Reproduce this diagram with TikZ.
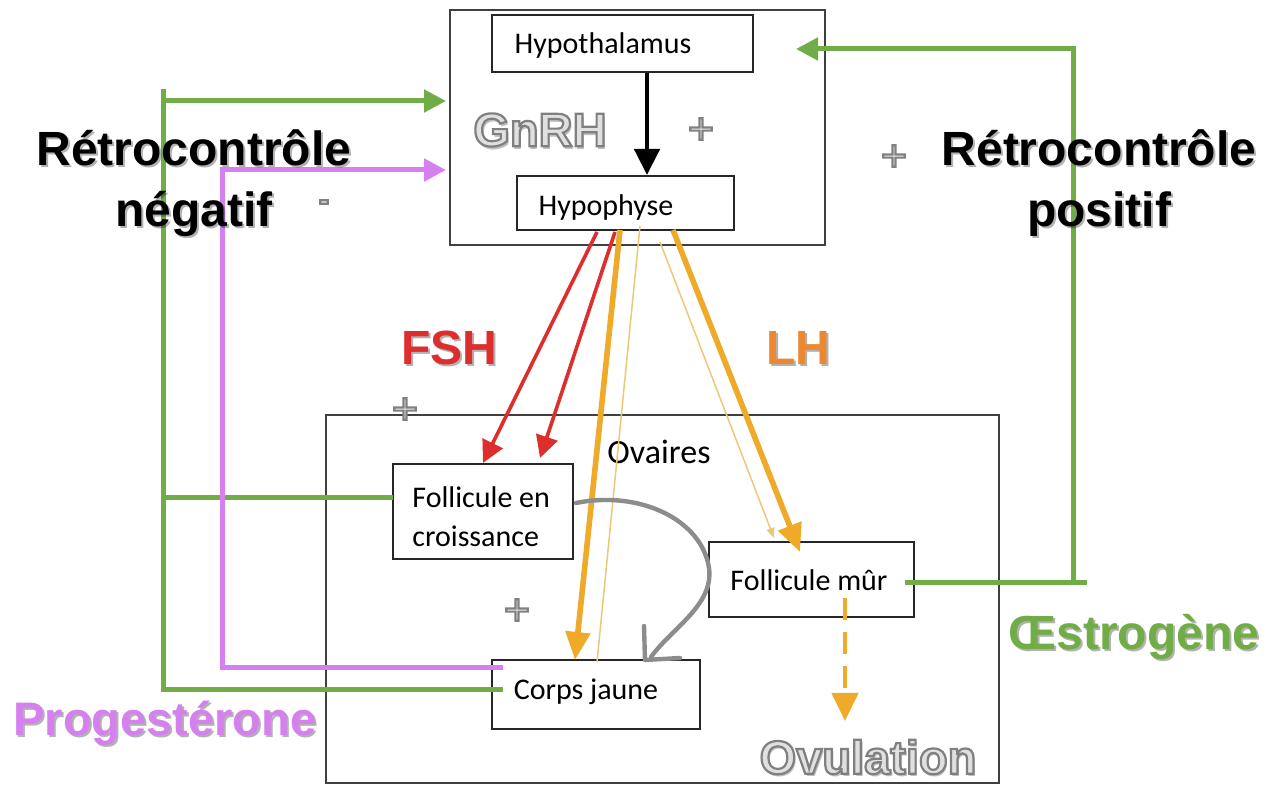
\documentclass[tikz,border=0pt]{standalone}
\usepackage{fontspec}
\setmainfont{Carlito}
\newfontfamily\arialf{Liberation Sans}
\usetikzlibrary{arrows.meta}
\definecolor{grn}{RGB}{112,173,71}
\definecolor{prp}{RGB}{214,128,240}
\definecolor{org}{RGB}{238,170,40}
\definecolor{orgl}{RGB}{238,200,120}
\definecolor{fshred}{RGB}{222,45,45}
\definecolor{lhorg}{RGB}{236,135,50}
\newcommand{\outlinetxt}[1]{\special{pdf:literal direct 0.5 G 1.1 w 2 Tr}#1\special{pdf:literal direct 0 Tr}}
\begin{document}
\begin{tikzpicture}[x=0.5pt,y=-0.5pt,
  box/.style={draw=black!85, line width=1pt, inner sep=0pt, font=\fontsize{15}{18}\selectfont},
  frame/.style={draw=black!75, line width=0.7pt, inner sep=0pt},
  big/.style={font=\arialf\bfseries\fontsize{24}{30.5}\selectfont, inner sep=0pt, align=center},
  shadow/.style={text=black, opacity=0.3},
  glin/.style={draw=grn, line width=2.5pt, line join=miter},
  plin/.style={draw=prp, line width=2.5pt, line join=miter},
  gtip/.style={-{Triangle[length=11pt,width=11pt]}},
  fsharrow/.style={draw=fshred, line width=1.8pt, -{Triangle[length=11pt,width=11pt]}},
  lhthick/.style={draw=org, line width=2.8pt, -{Triangle[length=14pt,width=12pt]}},
  lhthin/.style={draw=orgl, line width=0.75pt},
  pmsign/.style={font=\arialf\fontsize{22}{22}\selectfont, text=black!6, inner sep=0pt},
  light/.style={font=\arialf\bfseries\fontsize{23.5}{26}\selectfont, inner sep=0pt, text=black!12}
]
\useasboundingbox[fill=white] (0,0) rectangle (1271,785);

% frames
\node[frame, minimum width=187.5pt, minimum height=117.5pt] (topframe) at (637.5,127.5) {};
\node[frame, minimum width=336.5pt, minimum height=184pt] (ovframe) at (662.5,599) {};

% boxes
\node[box, minimum width=130.5pt, minimum height=28.5pt] (hypothal) at (622.5,43.5) {};
\node[inner sep=0pt, font=\fontsize{15}{18}\selectfont] (hypothalT) at (603,46) {Hypothalamus};
\node[box, minimum width=108.5pt, minimum height=27pt] (hypophyse) at (625.5,203) {};
\node[inner sep=0pt, font=\fontsize{15}{18}\selectfont] (hypophyseT) at (606,208) {Hypophyse};
\node[box, minimum width=90pt, minimum height=47.5pt] (croiss) at (483,511.5) {};
\node[inner sep=0pt, align=left, font=\fontsize{15}{19.5}\selectfont, anchor=west] (croissT) at (412,517) {Follicule en\\croissance};
\node[box, minimum width=102.5pt, minimum height=37.5pt] (fmur) at (811.5,579.5) {};
\node[inner sep=0pt, font=\fontsize{15}{18}\selectfont] (fmurT) at (809,580) {Follicule mûr};
\node[box, minimum width=104pt, minimum height=34.5pt] (cjaune) at (596,694.5) {};
\node[inner sep=0pt, font=\fontsize{15}{18}\selectfont] (cjauneT) at (586,692) {Corps jaune};
\node[inner sep=0pt, font=\fontsize{17}{20}\selectfont] (ovaires) at (659,452) {Ovaires};

% coordinates
\coordinate (hh) at (647,0);
\coordinate (negtop) at (163,89);
\coordinate (in1) at (446,101);
\coordinate (in2) at (446,170);
\coordinate (purpc) at (222,170);
\coordinate (crG) at (393,498);
\coordinate (cjP) at (503,668);
\coordinate (cjG) at (503,690);
\coordinate (fmG) at (905,583);
\coordinate (posEnd) at (1087,583);
\coordinate (posTop) at (1073,49);
\coordinate (in3) at (796,49);

% hypothalamus -> hypophyse
\draw[line width=2.3pt, -{Triangle[length=13pt,width=12.5pt]}] (hypothal.south -| hh) -- (hypophyse.north -| hh);

% negative feedback (green)
\draw[glin] (cjG) -| (negtop);
\draw[glin, gtip] (negtop |- in1) -- (in1);
\draw[glin] (crG) -- (crG -| negtop);
% progesterone (purple)
\draw[plin, gtip] (cjP) -| (purpc) -- (in2);
% positive feedback (green)
\draw[glin] (fmG) -- (posEnd);
\draw[glin, gtip] (posTop |- fmG) -- (posTop) -- (in3);

% FSH / LH arrows
\coordinate (f1s) at (597,232); \coordinate (f1e) at (483,463);
\coordinate (f2s) at (615,232); \coordinate (f2e) at (540,458);
\coordinate (l1s) at (620,230); \coordinate (l1e) at (575,660);
\coordinate (l2s) at (640,226); \coordinate (l2e) at (597,662);
\coordinate (l3s) at (660,242); \coordinate (l3e) at (774,538);
\coordinate (l4s) at (673,230); \coordinate (l4e) at (800,552);
\draw[fsharrow] (f1s) -- (f1e);
\draw[fsharrow] (f2s) -- (f2e);
\draw[lhthin] (l2s) -- (l2e);
\draw[lhthin, -{Triangle[length=5pt,width=4pt]}] (l3s) -- (l3e);
\draw[lhthick] (l1s) -- (l1e);
\draw[lhthick] (l4s) -- (l4e);

% ovulation dashed
\coordinate (ovs) at (845,598); \coordinate (ove) at (845,721);
\draw[draw=org, line width=2.2pt, dash pattern=on 11pt off 6pt, -{Triangle[length=14pt,width=13pt]}] (ovs) -- (ove);

% gray hand-drawn arrow
\coordinate (gs) at (576,503);
\coordinate (ge) at (651,657);
\draw[draw=black!45, line width=2.2pt, line cap=round, line join=round] (gs) .. controls (640,490) and (702,520) .. (709,568) .. controls (714,605) and (672,628) .. (ge);
\coordinate (gh1) at (644,626); \coordinate (gh2) at (645,660); \coordinate (gh3) at (680,658);
\draw[draw=black!45, line width=2.2pt, line cap=round, line join=round] (gh1) -- (gh2) -- (gh3);

% big labels
\node[big, shadow] (negS) at (196,185) {Rétrocontrôle\\négatif};
\node[big] (neg) at (194,183) {Rétrocontrôle\\négatif};
\node[big, shadow] (posS) at (1101,185) {Rétrocontrôle\\positif};
\node[big] (pos) at (1099,183) {Rétrocontrôle\\positif};
\node[big, shadow] (fshS) at (451,350) {FSH};
\node[big, text=fshred] (fsh) at (449,348) {FSH};
\node[big, shadow] (lhS) at (800,350) {LH};
\node[big, text=lhorg] (lh) at (798,348) {LH};
\node[big, shadow, font=\arialf\bfseries\fontsize{23.5}{26}\selectfont] (progS) at (167,725) {Progestérone};
\node[big, text=prp, font=\arialf\bfseries\fontsize{23.5}{26}\selectfont] (prog) at (165,723) {Progestérone};
\node[big, shadow] (oestS) at (1136,639) {Œstrogène};
\node[big, text=grn] (oest) at (1134,637) {Œstrogène};

% outlined light labels
\node[light, text=black, opacity=0.25] (gnrhS) at (542,133) {GnRH};
\node[light] (gnrh) at (540,130) {\outlinetxt{GnRH}};
\node[light, text=black, opacity=0.25] (ovulS) at (870,760) {Ovulation};
\node[light] (ovul) at (868,757) {\outlinetxt{Ovulation}};

% plus / minus signs
\node[pmsign] (p1) at (701,131) {\outlinetxt{+}};
\node[pmsign] (p2) at (894,158) {\outlinetxt{+}};
\node[pmsign] (p3) at (405,411) {\outlinetxt{+}};
\node[pmsign] (p4) at (517,612) {\outlinetxt{+}};
\node[pmsign, font=\arialf\bfseries\fontsize{15}{15}\selectfont] (m1) at (324,205) {\outlinetxt{-}};
\end{tikzpicture}
\end{document}
